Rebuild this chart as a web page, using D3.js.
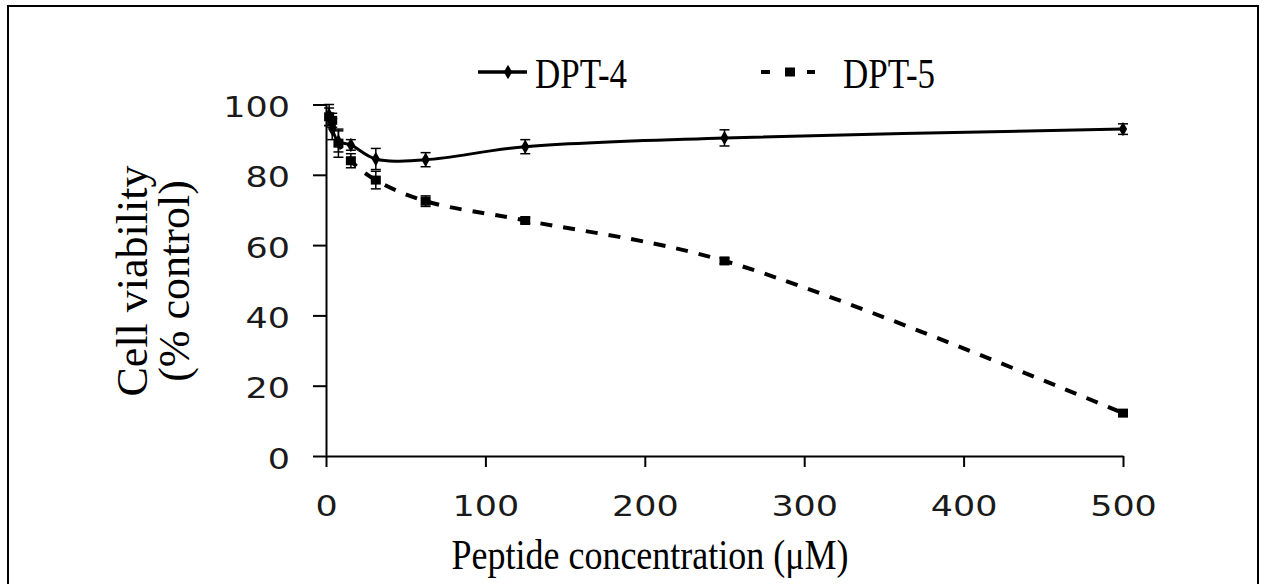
<!DOCTYPE html>
<html><head><meta charset="utf-8">
<script src="https://cdn.jsdelivr.net/npm/d3@7/dist/d3.min.js"></script>
<style>html,body{margin:0;padding:0;background:#fff;}svg{display:block;}</style>
</head><body>
<svg id="chart" width="1264" height="584"></svg>
<script>
const concentrations = [1.95, 3.9, 7.8, 15.6, 31.25, 62.5, 125, 250, 500];
const dpt4 = [97, 93, 89.5, 88.5, 84.5, 84.3, 88, 90.5, 93];
const dpt4Err = [3, 3, 3, 1.5, 3, 2, 2, 2.3, 1.5];
const dpt5 = [96.5, 95.5, 89, 84, 78.5, 72.5, 67, 55.5, 12.2];
const dpt5Err = [2.5, 2, 4, 2, 2.5, 1.5, 0.8, 0.8, 0.8];
const xTicks = [0, 100, 200, 300, 400, 500];
const yTicks = [0, 20, 40, 60, 80, 100];
const seriesNames = ["DPT-4", "DPT-5"];

const svg = d3.select("#chart");
const x = d3.scaleLinear().domain([0, 500]).range([326, 1123]);
const y = d3.scaleLinear().domain([0, 100]).range([456, 104.5]);
const SX = 1.27;

// outer frame
svg.append("rect").attr("x", 8).attr("y", 6).attr("width", 1250).attr("height", 600)
  .attr("fill", "none").attr("stroke", "#000").attr("stroke-width", 2);

const yAxis = svg.append("g").attr("transform", "translate(326,0)")
  .call(d3.axisLeft(y).tickValues(yTicks).tickSize(13).tickSizeOuter(0).tickPadding(0));
const xAxis = svg.append("g").attr("transform", "translate(0,456)")
  .call(d3.axisBottom(x).tickValues(xTicks).tickSize(11).tickSizeOuter(0).tickPadding(0));
[yAxis, xAxis].forEach(a => {
  a.selectAll("path,line").attr("stroke", "#000").attr("stroke-width", 2);
  a.selectAll("text").attr("font-family", "DejaVu Sans").attr("font-size", 27.5).attr("fill", "#1a1a1a");
});
yAxis.selectAll("text").attr("x", -36 / SX).attr("dy", null).attr("y", 12)
  .attr("transform", `scale(${SX},1)`);
xAxis.selectAll("text").attr("dy", null).attr("y", 60)
  .attr("transform", `scale(${SX},1)`);

// axis titles
svg.append("g").attr("transform", "translate(650,569) scale(1,1.2)")
  .append("text").attr("text-anchor", "middle")
  .attr("font-family", "Liberation Serif").attr("font-size", 36).text("Peptide concentration (\u03bcM)");
const yt = svg.append("g").attr("transform", "translate(0,281) rotate(-90)")
  .attr("font-family", "Liberation Serif").attr("font-size", 44).attr("text-anchor", "middle");
yt.append("text").attr("x", 0).attr("y", 147).text("Cell viability");
yt.append("text").attr("x", 0).attr("y", 189).text("(% control)");

const line = d3.line().x(d => x(d[0])).y(d => y(d[1])).curve(d3.curveCatmullRom.alpha(0.5));
const d4 = concentrations.map((c, i) => [c, dpt4[i], dpt4Err[i]]);
const d5 = concentrations.map((c, i) => [c, dpt5[i], dpt5Err[i]]);

function errorBars(data) {
  const g = svg.append("g").attr("stroke", "#000").attr("stroke-width", 1.5);
  data.forEach(d => {
    const cx = x(d[0]), y1 = y(d[1] + d[2]), y2 = y(d[1] - d[2]);
    g.append("line").attr("x1", cx).attr("x2", cx).attr("y1", y1).attr("y2", y2);
    g.append("line").attr("x1", cx - 5).attr("x2", cx + 5).attr("y1", y1).attr("y2", y1);
    g.append("line").attr("x1", cx - 5).attr("x2", cx + 5).attr("y1", y2).attr("y2", y2);
  });
}
errorBars(d5);
errorBars(d4);

svg.append("path").datum(d5).attr("d", line).attr("fill", "none").attr("stroke", "#000")
  .attr("stroke-width", 4).attr("stroke-dasharray", "12,11");
svg.append("path").datum(d4).attr("d", line).attr("fill", "none").attr("stroke", "#000")
  .attr("stroke-width", 3);

const diamond = d3.symbol().type(d3.symbolDiamond).size(60);
svg.append("g").selectAll("path").data(d4).join("path")
  .attr("transform", d => `translate(${x(d[0])},${y(d[1])})`).attr("d", diamond).attr("fill", "#000");
svg.append("g").selectAll("rect").data(d5).join("rect")
  .attr("x", d => x(d[0]) - 5).attr("y", d => y(d[1]) - 4.5).attr("width", 10).attr("height", 9).attr("fill", "#000");

// legend
const lg = svg.append("g");
lg.append("line").attr("x1", 478).attr("x2", 527).attr("y1", 72).attr("y2", 72).attr("stroke", "#000").attr("stroke-width", 3.5);
lg.append("path").attr("transform", "translate(508,72)").attr("d", diamond).attr("fill", "#000");
lg.append("g").attr("transform", "translate(535,88) scale(1,1.2)").append("text")
  .attr("font-family", "Liberation Serif").attr("font-size", 35).text(seriesNames[0]);
lg.append("line").attr("x1", 761).attr("x2", 770).attr("y1", 72).attr("y2", 72).attr("stroke", "#000").attr("stroke-width", 4);
lg.append("line").attr("x1", 807).attr("x2", 815).attr("y1", 72).attr("y2", 72).attr("stroke", "#000").attr("stroke-width", 4);
lg.append("rect").attr("x", 785).attr("y", 67.5).attr("width", 10).attr("height", 9).attr("fill", "#000");
lg.append("g").attr("transform", "translate(843,88) scale(1,1.2)").append("text")
  .attr("font-family", "Liberation Serif").attr("font-size", 35).text(seriesNames[1]);
</script>
</body></html>
